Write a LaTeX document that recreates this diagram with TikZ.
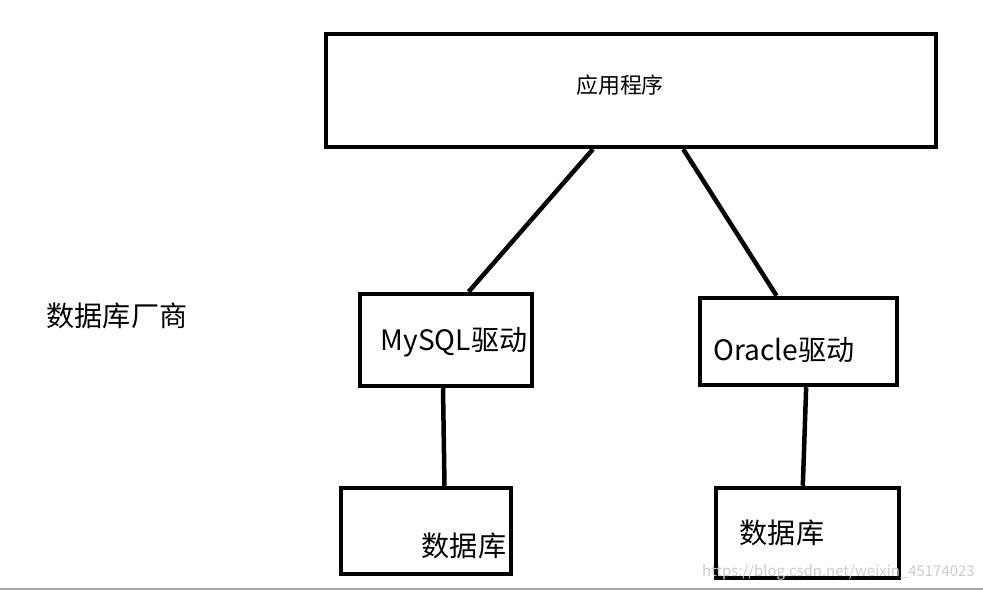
\documentclass[tikz,border=0pt]{standalone}
\usepackage{fontspec}
\setmainfont{Noto Sans CJK SC}
\usetikzlibrary{calc}
\begin{document}
\begin{tikzpicture}[x=0.02cm,y=-0.02cm,
	box/.style={draw,line width=0.09cm,inner sep=0pt},
	lbl/.style={font=\fontsize{16}{19}\selectfont,inner sep=0pt},
	wire/.style={line width=0.09cm}]
	\useasboundingbox (0,0) rectangle (983,590);
	
	\node[box,minimum width=12.2cm,minimum height=2.26cm] (app) at (631,90.5) {};
	\node[box,minimum width=3.44cm,minimum height=1.84cm] (mysql) at (446,340) {};
	\node[box,minimum width=3.94cm,minimum height=1.74cm] (oracle) at (798.5,341.5) {};
	\node[box,minimum width=3.4cm,minimum height=1.72cm] (dbl) at (426,531) {};
	\node[box,minimum width=3.66cm,minimum height=1.8cm] (dbr) at (807.5,533) {};
	
	% texts sit off centre
	\node[lbl,font=\fontsize{12.5}{15}\selectfont] (appText) at (620,85) {应用程序};
	\node[lbl] (mysqlText) at (454,342) {MySQL驱动};
	\node[lbl] (oracleText) at (784,350) {Oracle驱动};
	\node[lbl] (dblText) at (464,546) {数据库};
	\node[lbl] (dbrText) at (782,533) {数据库};
	\node[lbl] (vendor) at (117,316) {数据库厂商};
	
	\draw[wire] ($(app.south west)!0.438!(app.south east)$)--($(mysql.north west)!0.628!(mysql.north east)$);
	\draw[wire] ($(app.south west)!0.585!(app.south east)$)--($(oracle.north west)!0.391!(oracle.north east)$);
	\draw[wire] ($(mysql.south west)!0.483!(mysql.south east)$)--($(dbl.north west)!0.606!(dbl.north east)$);
	\draw[wire] ($(oracle.south west)!0.538!(oracle.south east)$)--($(dbr.north west)!0.475!(dbr.north east)$);
	
	\node[inner sep=0pt,anchor=east,text=gray!40,font=\fontsize{8.5}{10}\selectfont] (mark) at (975,572) {https://blog.csdn.net/weixin\_45174023};
	\draw[gray!70,line width=0.03cm] (0,589) -- (983,589);
\end{tikzpicture}
\end{document}
